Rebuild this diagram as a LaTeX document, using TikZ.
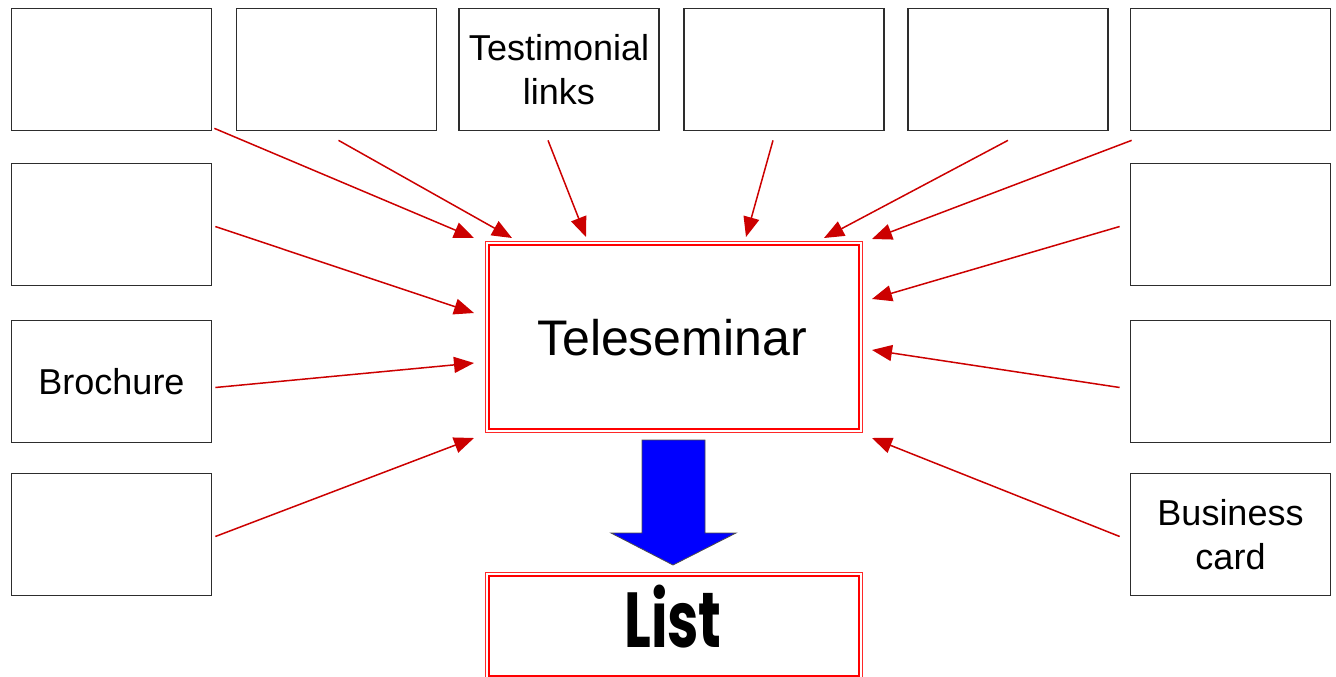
\documentclass[tikz,border=0pt]{standalone}
\usepackage{fontspec}
\setmainfont{Liberation Sans}
\newfontfamily\listfont{Poppins}
\usetikzlibrary{arrows.meta,calc}
\definecolor{arrred}{RGB}{204,0,0}
\definecolor{boxgray}{RGB}{45,45,45}
\definecolor{dblred}{RGB}{255,40,40}
\begin{document}
\begin{tikzpicture}[x=1pt,y=-1pt,
  card/.style={draw=boxgray, line width=1.7pt, minimum width=200pt, minimum height=122pt,
    inner sep=0pt, align=center, font=\fontsize{36}{44}\selectfont},
  feed/.style={draw=arrred, line width=1.5pt, -{Triangle[length=20pt,width=16pt,fill=arrred]}},
  bigbox/.style={draw=dblred, line width=1pt, minimum width=377pt, inner sep=0pt},
  innerline/.style={draw=red, line width=2pt}
]
\useasboundingbox (0,0) rectangle (1336,677);

% top row
\node[card] (t1) at (111.5,69.5) {};
\node[card] (t2) at (336.5,69.5) {};
\node[card] (t3) at (559,69.5) {\raisebox{-4pt}[\height][\depth]{\begin{tabular}{@{}c@{}}Testimonial\\links\end{tabular}}};
\node[card] (t4) at (784,69.5) {};
\node[card] (t5) at (1008,69.5) {};
\node[card] (t6) at (1230.5,69.5) {};
% left column
\node[card] (l2) at (111.5,224.5) {};
\node[card] (l3) at (111.5,381.5) {Brochure};
\node[card] (l4) at (111.5,534.5) {};
% right column
\node[card] (r2) at (1230.5,224.5) {};
\node[card] (r3) at (1230.5,381.5) {};
\node[card] (r4) at (1230.5,534.5) {Business\\card};

% central boxes
\node[bigbox, minimum height=191pt] (tele) at (673.5,336.5) {};
\draw[innerline] ([shift={(4,4)}]tele.north west) rectangle ([shift={(-4,-4)}]tele.south east);
\node[font=\fontsize{50}{58}\selectfont] (teletext) at (672,338) {Teleseminar};

\node[bigbox, minimum height=106pt] (list) at (673.5,625) {};
\draw[innerline] ([shift={(4,4)}]list.north west) rectangle ([shift={(-4,-3)}]list.south east);
\node[font=\listfont\bfseries\fontsize{78}{90}\selectfont] (listtext) at (673,617)
  {\scalebox{0.72}[1]{List}};

% block arrow
\draw[fill=blue, draw=black!70, line width=0.8pt]
  (642,440) -- (705,440) -- (705,533) -- (736,533) -- (673,565) -- (611,533) -- (642,533) -- cycle;

% arrow end coordinates
\coordinate (e1) at (474,238);
\coordinate (e2) at (512,238);
\coordinate (e3) at (586,237);
\coordinate (e4) at (746,237);
\coordinate (e5) at (824,238);
\coordinate (e6) at (872,239);
\coordinate (e7) at (474,313);
\coordinate (e8) at (474,363);
\coordinate (e9) at (474,438);
\coordinate (e10) at (872,299);
\coordinate (e11) at (872,350);
\coordinate (e12) at (872,438);

\draw[feed] ([shift={(2,-3)}]t1.south east) -- (e1);
\draw[feed] ([shift={(2,9)}]t2.south) -- (e2);
\draw[feed] ([shift={(-11,9)}]t3.south) -- (e3);
\draw[feed] ([shift={(-11,9)}]t4.south) -- (e4);
\draw[feed] ([shift={(0,9)}]t5.south) -- (e5);
\draw[feed] ([shift={(2,9)}]t6.south west) -- (e6);
\draw[feed] ([shift={(3,2)}]l2.east) -- (e7);
\draw[feed] ([shift={(3,6)}]l3.east) -- (e8);
\draw[feed] ([shift={(3,2)}]l4.east) -- (e9);
\draw[feed] ([shift={(-10,2)}]r2.west) -- (e10);
\draw[feed] ([shift={(-10,6)}]r3.west) -- (e11);
\draw[feed] ([shift={(-10,2)}]r4.west) -- (e12);
\end{tikzpicture}
\end{document}
